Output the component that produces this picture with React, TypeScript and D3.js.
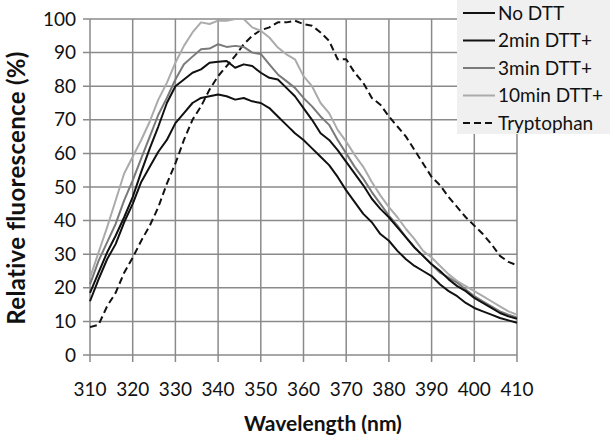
import React, { useEffect, useRef } from "react";
import * as d3 from "d3";

// wavelengths in nm, 2 nm steps
const wavelengths = d3.range(310, 411, 2);

const noDtt = [
  16, 22.5, 28.5, 33, 39.5, 45, 51.5, 56, 60.5, 64, 69, 72, 75, 76.5, 77, 77.5, 77, 76,
  76.5, 75.5, 75, 73.5, 71, 68.5, 66, 64, 61.5, 59, 56.5, 53, 49, 45.5, 42, 39.5, 36, 34,
  31, 28.5, 26.5, 25, 23.5, 21, 19, 17.5, 15.5, 14, 13, 12, 11, 10.3, 9.6,
];
const dtt2 = [
  18.5, 24.5, 30.5, 35.5, 41, 47, 54.5, 61.5, 68, 75, 80, 82, 84, 85, 87, 87.3, 87.5, 85.5,
  86.5, 86, 84, 82.5, 82, 79.5, 77, 73.5, 70, 66, 64, 61, 57.5, 54, 50.5, 46.5, 43.5, 41,
  38, 35, 32, 29.5, 27, 25, 22.5, 20.5, 19, 17, 15.5, 14, 12.5, 11.5, 10.8,
];
const dtt3 = [
  21, 28, 33.5, 39, 46, 52, 58.5, 65, 71.5, 76.5, 82, 86.5, 88.8, 91, 91.2, 92.5, 91.7, 92,
  91.7, 90, 89.6, 86.5, 83.5, 81.5, 79.5, 76.5, 74, 71, 68.5, 64, 60, 56, 52.5, 48.5, 45,
  41.5, 38.5, 35, 32, 29.5, 27, 24.5, 23, 21.5, 19.5, 17.5, 16, 14.5, 13, 12, 11.2,
];
const dtt10 = [
  23, 30.5, 38, 46, 54, 59, 64, 69.5, 76, 81, 87, 92, 96, 99, 98.5, 99.5, 99.5, 100, 100,
  97.5, 96.5, 94.5, 91.5, 89.5, 88, 83, 80, 75, 72, 67, 63.5, 59.5, 56, 51.5, 47.5, 44, 41,
  37.5, 34.5, 31, 29, 26.5, 24, 22, 20.5, 19, 17.5, 16, 14.5, 13, 12,
];
const tryptophan = [
  8.3, 9, 14.5, 18.5, 24.5, 29, 34, 38.5, 44, 51, 57, 64, 70, 74, 79, 83, 86, 89, 92.5, 95,
  96.7, 97.5, 99, 99, 99.5, 98.5, 98, 96, 93.5, 88, 88, 84, 81, 76.5, 74.5, 71, 68, 65, 61,
  57, 53, 50.5, 47, 44, 41, 38.5, 36, 33, 29.5, 27.7, 26.7,
];

const seriesNames = ["No DTT", "2min DTT+", "3min DTT+", "10min DTT+", "Tryptophan"];
const seriesValues = [noDtt, dtt2, dtt3, dtt10, tryptophan];
const seriesColors = ["#111", "#111", "#7a7a7a", "#ababab", "#111"];
const seriesDash = [null, null, null, null, "7,4"];

const xTicks = d3.range(310, 411, 10);
const yTicks = d3.range(0, 101, 10);

const FONT = "Lato, 'Open Sans', sans-serif";

export default function App() {
  const ref = useRef<SVGSVGElement>(null);

  useEffect(() => {
    const width = 610;
    const height = 442;
    const svg = d3.select(ref.current);
    svg.selectAll("*").remove();
    svg.attr("width", width).attr("height", height);

    const x = d3.scaleLinear().domain([310, 410]).range([90, 517]);
    const y = d3.scaleLinear().domain([0, 100]).range([355, 19]);

    // grid
    const grid = svg.append("g").attr("stroke", "#8a8a8a").attr("stroke-width", 1.5);
    grid
      .selectAll(".h")
      .data(yTicks)
      .enter()
      .append("line")
      .attr("x1", x(310) - 7)
      .attr("x2", x(410))
      .attr("y1", (d) => y(d))
      .attr("y2", (d) => y(d));
    grid
      .selectAll(".v")
      .data(xTicks)
      .enter()
      .append("line")
      .attr("x1", (d) => x(d))
      .attr("x2", (d) => x(d))
      .attr("y1", y(100))
      .attr("y2", y(0) + 7);

    // tick labels
    svg
      .append("g")
      .selectAll("text")
      .data(yTicks)
      .enter()
      .append("text")
      .attr("x", 76)
      .attr("y", (d) => y(d))
      .attr("dy", "0.35em")
      .attr("text-anchor", "end")
      .style("font-family", FONT)
      .style("font-size", "19px")
      .attr("fill", "#111")
      .text((d) => d);

    svg
      .append("g")
      .selectAll("text")
      .data(xTicks)
      .enter()
      .append("text")
      .attr("x", (d) => x(d))
      .attr("y", 389)
      .attr("dy", "0.35em")
      .attr("text-anchor", "middle")
      .style("font-family", FONT)
      .style("font-size", "19px")
      .attr("fill", "#111")
      .text((d) => d);

    // axis titles
    svg
      .append("text")
      .attr("x", 323)
      .attr("y", 424)
      .attr("dy", "0.35em")
      .attr("text-anchor", "middle")
      .style("font-family", FONT)
      .style("font-size", "21px")
      .style("font-weight", "bold")
      .attr("fill", "#111")
      .text("Wavelength (nm)");

    svg
      .append("text")
      .attr("transform", `translate(17,188) rotate(-90)`)
      .attr("dy", "0.35em")
      .attr("text-anchor", "middle")
      .style("font-family", FONT)
      .style("font-size", "24px")
      .style("letter-spacing", "0.3px")
      .style("font-weight", "bold")
      .attr("fill", "#111")
      .text("Relative fluorescence (%)");

    // lines
    const line = d3
      .line<number>()
      .x((_, i) => x(wavelengths[i]))
      .y((d) => y(d));

    // draw back to front
    [4, 3, 2, 1, 0].forEach((k) => {
      svg
        .append("path")
        .datum(seriesValues[k])
        .attr("d", line)
        .attr("fill", "none")
        .attr("stroke", seriesColors[k])
        .attr("stroke-width", 2)
        .attr("stroke-linejoin", "round")
        .attr("stroke-dasharray", seriesDash[k]);
    });

    // legend
    const legend = svg.append("g");
    legend
      .append("rect")
      .attr("x", 457)
      .attr("y", 0)
      .attr("width", 153)
      .attr("height", 134)
      .attr("fill", "#f0f0f0");
    const item = legend
      .selectAll(".item")
      .data(seriesNames)
      .enter()
      .append("g")
      .attr("transform", (_, i) => `translate(0,${13 + i * 27.5})`);
    item
      .append("line")
      .attr("x1", 463)
      .attr("x2", 495)
      .attr("stroke", (_, i) => seriesColors[i])
      .attr("stroke-width", 2)
      .attr("stroke-dasharray", (_, i) => seriesDash[i]);
    item
      .append("text")
      .attr("x", 498)
      .attr("dy", "0.35em")
      .style("font-family", FONT)
      .style("font-size", "19px")
      .attr("fill", "#111")
      .text((d) => d);
  }, []);

  return <svg ref={ref} style={{ position: "absolute", left: 0, top: 0 }} />;
}
